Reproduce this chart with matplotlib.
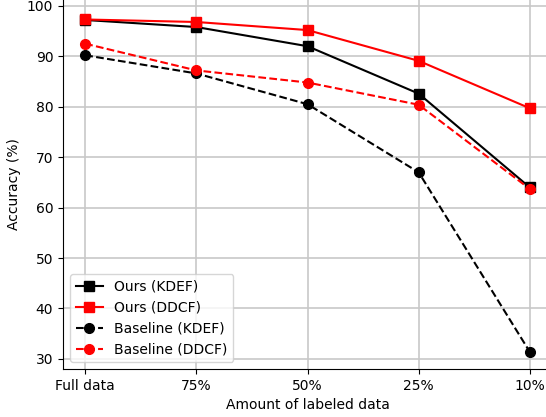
import matplotlib
matplotlib.use("Agg")
import matplotlib.pyplot as plt

labels = ["Full data", "75%", "50%", "25%", "10%"]
ours_kdef = [97.2, 95.8, 92.0, 82.6, 64.0]
ours_ddcf = [97.3, 96.8, 95.2, 89.1, 79.7]
base_kdef = [90.2, 86.6, 80.5, 67.0, 31.4]
base_ddcf = [92.5, 87.2, 84.8, 80.4, 63.7]

fig = plt.figure(figsize=(5.46, 4.17), dpi=100)
ax = fig.add_axes([0.1154, 0.1151, 0.8956, 0.889])

x = range(len(labels))
ax.plot(x, ours_kdef, "s-", color="black", markersize=7, label="Ours (KDEF)")
ax.plot(x, ours_ddcf, "s-", color="red", markersize=7, label="Ours (DDCF)")
ax.plot(x, base_kdef, "o--", color="black", markersize=7, label="Baseline (KDEF)")
ax.plot(x, base_ddcf, "o--", color="red", markersize=7, label="Baseline (DDCF)")

ax.set_xticks(list(x))
ax.set_xticklabels(labels)
ax.set_xlim(-0.2, 4.2)
ax.set_ylim(28.0, 101.5)
ax.set_yticks(range(30, 101, 10))
ax.set_xlabel("Amount of labeled data")
ax.set_ylabel("Accuracy (%)")
ax.grid(True, color="#c8c8c8", linewidth=1.2)
ax.set_axisbelow(True)
ax.legend(loc="lower left")

fig.savefig("out.png", dpi=100)
